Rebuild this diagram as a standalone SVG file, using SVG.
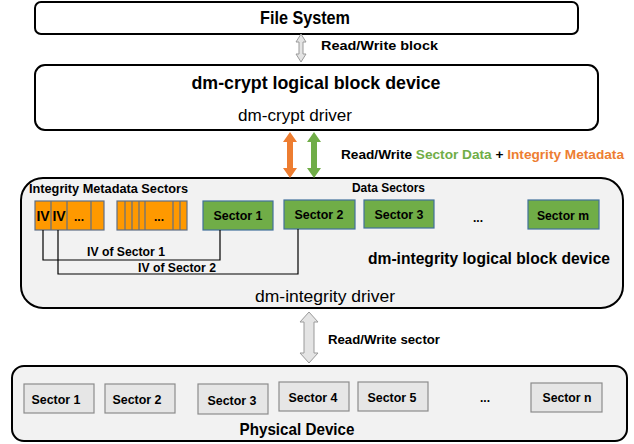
<svg xmlns="http://www.w3.org/2000/svg" width="634" height="444" viewBox="0 0 634 444">
<style>
text{font-family:"Liberation Sans",Arial,sans-serif;fill:#000}
.b{font-weight:bold}
.box{fill:#fff;stroke:#000;stroke-width:2}
.gbox{fill:#f2f2f2;stroke:#000;stroke-width:2}
.grn{fill:#70ad47;stroke:#41719c;stroke-width:1.2}
.org{fill:#ff9900;stroke:#5f6f85;stroke-width:1.2}
.phy{fill:#e6e6e6;stroke:#8c8c8c;stroke-width:1.2}
.hol{fill:#e4e4e4;stroke:#9a9a9a;stroke-width:1}
.ln{fill:none;stroke:#000;stroke-width:1.2}
.st{font-size:13.5px;font-weight:bold;text-anchor:middle}
</style>
<g id="file-system">
<rect class="box" x="35" y="2" width="543" height="32" rx="6"/>
<text class="b" x="305" y="24" font-size="19" text-anchor="middle" textLength="90" lengthAdjust="spacingAndGlyphs">File System</text>
</g>
<g id="dm-crypt">
<rect class="box" x="35" y="65" width="563" height="65" rx="10"/>
<text class="b" x="316" y="89" font-size="19" text-anchor="middle" textLength="249" lengthAdjust="spacingAndGlyphs">dm-crypt logical block device</text>
<text x="295" y="121" font-size="16" text-anchor="middle" textLength="114" lengthAdjust="spacingAndGlyphs">dm-crypt driver</text>
</g>
<g id="dm-integrity">
<rect class="gbox" x="21" y="178" width="602" height="130" rx="22"/>
<text class="b" x="29" y="193" font-size="13" textLength="159" lengthAdjust="spacingAndGlyphs">Integrity Metadata Sectors</text>
<text class="b" x="352" y="192" font-size="12.5" textLength="73" lengthAdjust="spacingAndGlyphs">Data Sectors</text>
<text class="b" x="368" y="264" font-size="17" textLength="242" lengthAdjust="spacingAndGlyphs">dm-integrity logical block device</text>
<text x="325" y="302" font-size="16" text-anchor="middle" textLength="140" lengthAdjust="spacingAndGlyphs">dm-integrity driver</text>
</g>
<g id="metadata-group-1">
<rect class="org" x="35" y="201" width="69" height="29"/>
<line class="org" x1="51" y1="201" x2="51" y2="230"/>
<line class="org" x1="67" y1="201" x2="67" y2="230"/>
<line class="org" x1="91" y1="201" x2="91" y2="230"/>
<text class="b" x="43" y="221" font-size="14" text-anchor="middle">IV</text>
<text class="b" x="59" y="221" font-size="14" text-anchor="middle">IV</text>
<text class="b" x="79" y="221" font-size="12" text-anchor="middle">...</text>
</g>
<g id="metadata-group-2">
<rect class="org" x="117" y="201" width="70" height="29"/>
<line class="org" x1="125" y1="201" x2="125" y2="230"/>
<line class="org" x1="132" y1="201" x2="132" y2="230"/>
<line class="org" x1="139" y1="201" x2="139" y2="230"/>
<line class="org" x1="145" y1="201" x2="145" y2="230"/>
<line class="org" x1="173" y1="201" x2="173" y2="230"/>
<line class="org" x1="180" y1="201" x2="180" y2="230"/>
<text class="b" x="159" y="221" font-size="12" text-anchor="middle">...</text>
</g>
<g id="data-sector-1">
<rect class="grn" x="203" y="201" width="70" height="29"/>
<text class="st" x="238" y="220" textLength="49" lengthAdjust="spacingAndGlyphs">Sector 1</text>
</g>
<g id="data-sector-2">
<rect class="grn" x="284" y="200" width="71" height="29"/>
<text class="st" x="319" y="219" textLength="49" lengthAdjust="spacingAndGlyphs">Sector 2</text>
</g>
<g id="data-sector-3">
<rect class="grn" x="364" y="200" width="70" height="28"/>
<text class="st" x="399" y="219" textLength="49" lengthAdjust="spacingAndGlyphs">Sector 3</text>
</g>
<g id="data-sector-dots">
<text class="b" x="478" y="222" font-size="12" text-anchor="middle">...</text>
</g>
<g id="data-sector-m">
<rect class="grn" x="528" y="200" width="71" height="29"/>
<text class="st" x="563" y="220" textLength="52" lengthAdjust="spacingAndGlyphs">Sector m</text>
</g>
<g id="physical-device">
<rect class="gbox" x="12" y="366" width="615" height="75" rx="12"/>
<text class="b" x="297" y="435" font-size="17" text-anchor="middle" textLength="115" lengthAdjust="spacingAndGlyphs">Physical Device</text>
</g>
<g id="phys-sector-1"><rect class="phy" x="24" y="384" width="70" height="29"/><text class="st" x="56" y="404" textLength="49" lengthAdjust="spacingAndGlyphs">Sector 1</text></g>
<g id="phys-sector-2"><rect class="phy" x="105" y="384" width="70" height="29"/><text class="st" x="137" y="404" textLength="49" lengthAdjust="spacingAndGlyphs">Sector 2</text></g>
<g id="phys-sector-3"><rect class="phy" x="198" y="384" width="70" height="30"/><text class="st" x="232" y="405" textLength="49" lengthAdjust="spacingAndGlyphs">Sector 3</text></g>
<g id="phys-sector-4"><rect class="phy" x="279" y="382" width="70" height="29"/><text class="st" x="313" y="402" textLength="49" lengthAdjust="spacingAndGlyphs">Sector 4</text></g>
<g id="phys-sector-5"><rect class="phy" x="358" y="382" width="70" height="29"/><text class="st" x="392" y="402" textLength="49" lengthAdjust="spacingAndGlyphs">Sector 5</text></g>
<g id="phys-sector-dots"><text class="b" x="485" y="402" font-size="12" text-anchor="middle">...</text></g>
<g id="phys-sector-n"><rect class="phy" x="531" y="383" width="71" height="29"/><text class="st" x="567" y="402" textLength="49" lengthAdjust="spacingAndGlyphs">Sector n</text></g>
<g id="connectors">
<path class="hol" d="M301,34 L306,42 L303,42 L303,54 L306,54 L301,62 L296,54 L299,54 L299,42 L296,42 Z"/>
<text class="b" x="321" y="50" font-size="13" textLength="117" lengthAdjust="spacingAndGlyphs">Read/Write block</text>
<path fill="#ed7d31" d="M290,132 L297,142 L293,142 L293,168 L297,168 L290,178 L283,168 L287,168 L287,142 L283,142 Z"/>
<path fill="#70ad47" d="M314,132 L321,142 L317,142 L317,168 L321,168 L314,178 L307,168 L311,168 L311,142 L307,142 Z"/>
<text class="b" x="341" y="159" font-size="13" textLength="283" lengthAdjust="spacingAndGlyphs">Read/Write <tspan fill="#70ad47">Sector Data</tspan> + <tspan fill="#ed7d31">Integrity Metadata</tspan></text>
<polyline class="ln" points="43,230 43,260 220,260 220,230"/>
<polyline class="ln" points="58,230 58,274 298,274 298,229"/>
<text class="b" x="87" y="256" font-size="13" textLength="78" lengthAdjust="spacingAndGlyphs">IV of Sector 1</text>
<text class="b" x="138" y="272" font-size="13" textLength="78" lengthAdjust="spacingAndGlyphs">IV of Sector 2</text>
<path class="hol" d="M309,312 L318,322 L314,322 L314,353 L318,353 L309,363 L300,353 L304,353 L304,322 L300,322 Z"/>
<text class="b" x="328" y="344" font-size="13" textLength="112" lengthAdjust="spacingAndGlyphs">Read/Write sector</text>
</g>
</svg>
